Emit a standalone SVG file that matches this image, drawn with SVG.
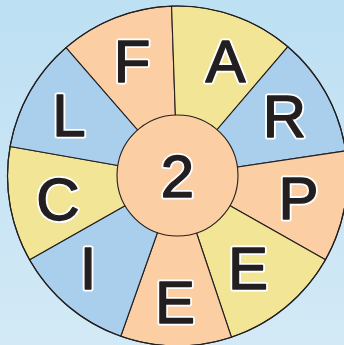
<svg xmlns="http://www.w3.org/2000/svg" width="344" height="345" viewBox="0 0 344 345">
<defs>
<linearGradient id="bg" x1="0" y1="0" x2="0" y2="1">
<stop offset="0" stop-color="#bde0f3"/>
<stop offset="1" stop-color="#d3e9f6"/>
</linearGradient>
</defs>
<style>
.w{stroke:#231f20;stroke-width:1.1;stroke-linejoin:round}
.pe{fill:#fbcea3}
.ye{fill:#f3e596}
.bl{fill:#aacfec}
.halo{font-family:"Liberation Sans",Arial,sans-serif;font-size:60px;text-anchor:middle;fill:none;stroke:#ffffff;stroke-width:5;stroke-linejoin:round}
.t{font-family:"Liberation Sans",Arial,sans-serif;font-size:60px;text-anchor:middle;fill:#231f20;stroke:#231f20;stroke-width:1.4;stroke-linejoin:round}
</style>
<rect width="344" height="345" fill="url(#bg)"/>
<g id="seg-F"><path class="w pe" d="M177.5 176 L65.96 47.70 A170 170 0 0 1 171.57 6.10 Z"/><text class="halo" x="132" y="81.5">F</text><text class="t" x="132" y="81.5">F</text></g>
<g id="seg-A"><path class="w ye" d="M177.5 176 L171.57 6.10 A170 170 0 0 1 287.90 46.73 Z"/><text class="halo" x="225.5" y="81.5">A</text><text class="t" x="225.5" y="81.5">A</text></g>
<g id="seg-R"><path class="w bl" d="M177.5 176 L287.90 46.73 A170 170 0 0 1 345.63 150.87 Z"/><text class="halo" x="284.5" y="137">R</text><text class="t" x="284.5" y="137">R</text></g>
<g id="seg-P"><path class="w pe" d="M177.5 176 L345.63 150.87 A170 170 0 0 1 325.47 259.71 Z"/><text class="halo" x="298.5" y="219">P</text><text class="t" x="298.5" y="219">P</text></g>
<g id="seg-E1"><path class="w ye" d="M177.5 176 L325.47 259.71 A170 170 0 0 1 231.44 337.21 Z"/><text class="halo" x="248" y="289">E</text><text class="t" x="248" y="289">E</text></g>
<g id="seg-E2"><path class="w pe" d="M177.5 176 L231.44 337.21 A170 170 0 0 1 120.75 336.24 Z"/><text class="halo" x="175" y="323">E</text><text class="t" x="175" y="323">E</text></g>
<g id="seg-I"><path class="w bl" d="M177.5 176 L120.75 336.24 A170 170 0 0 1 29.53 259.71 Z"/><text class="halo" x="88" y="288.5">I</text><text class="t" x="88" y="288.5">I</text></g>
<g id="seg-C"><path class="w ye" d="M177.5 176 L29.53 259.71 A170 170 0 0 1 10.08 146.49 Z"/><text class="halo" x="58" y="220">C</text><text class="t" x="58" y="220">C</text></g>
<g id="seg-L"><path class="w bl" d="M177.5 176 L10.08 146.49 A170 170 0 0 1 65.96 47.70 Z"/><text class="halo" x="69" y="135.5">L</text><text class="t" x="69" y="135.5">L</text></g>
<circle cx="177.5" cy="176" r="170" fill="none" stroke="#231f20" stroke-width="1.2"/>
<g id="center"><circle class="w pe" cx="177.5" cy="175.5" r="60.5"/><text class="halo" x="177.5" y="197">2</text><text class="t" x="177.5" y="197">2</text></g>
<g id="connectors"/>
</svg>
